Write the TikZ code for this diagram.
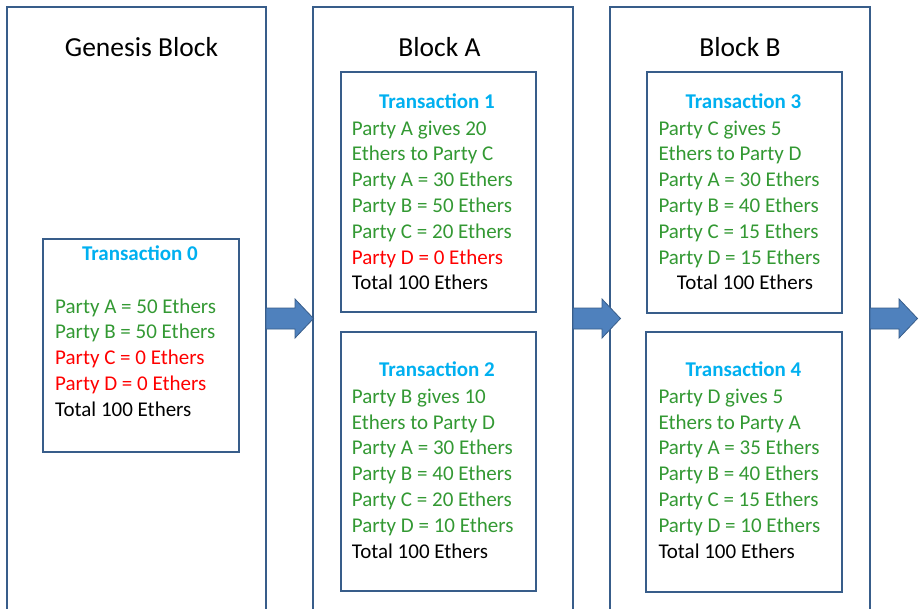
\documentclass[tikz,border=0pt]{standalone}
\usepackage{fontspec}
\setmainfont{Carlito}
\usepackage{xcolor}
\usepackage{tikz}

\definecolor{boxblue}{RGB}{56,93,138}
\definecolor{arrowblue}{RGB}{79,129,189}
\definecolor{headblue}{RGB}{0,176,240}
\definecolor{partygreen}{RGB}{51,153,51}
\definecolor{partyred}{RGB}{255,0,0}

\tikzset{
    blockbox/.style={draw=boxblue, line width=2.5pt, anchor=north west, inner sep=0pt, outer sep=0pt, minimum height=620pt},
    txbox/.style={draw=boxblue, line width=2.5pt, anchor=north west, inner sep=0pt, outer sep=0pt, minimum width=195pt},
    blockarrow/.style={draw=boxblue, line width=0.8pt, fill=arrowblue, line join=miter},
    titletext/.style={anchor=base, inner sep=0pt, font=\fontsize{27.5}{33}\selectfont},
    headtext/.style={anchor=base, inner sep=0pt, text=headblue, font=\bfseries\fontsize{21}{25.8}\selectfont},
    partylines/.style={anchor=base west, inner sep=0pt, text width=173pt, text=partygreen, font=\fontsize{21}{25.8}\selectfont,
        execute at begin node={\setlength{\spaceskip}{0pt}\setlength{\xspaceskip}{0pt}}}
}

\begin{document}
\begin{tikzpicture}[x=1pt,y=-1pt]

    \useasboundingbox (0,0) rectangle (920,608);
    \fill[white] (0,0) rectangle (920,608);
    \clip (0,0) rectangle (920,608);

    \node[blockbox, minimum width=259pt] (gen) at (7,7) {};
    \node[blockbox, minimum width=260pt] (blka) at (313,7) {};
    \node[blockbox, minimum width=260pt] (blkb) at (610,7) {};

    \node[titletext] (gentitle) at (141.5,56.7) {Genesis Block};
    \node[titletext] (blkatitle) at (439.5,56.7) {Block A};
    \node[titletext] (blkbtitle) at (740,56.7) {Block B};

    \node[txbox, minimum width=196pt, minimum height=213pt] (tx0) at (43,239) {};
    \node[txbox, minimum height=240pt] (tx1) at (341,72) {};
    \node[txbox, minimum height=259pt] (tx2) at (341,332) {};
    \node[txbox, minimum height=241pt] (tx3) at (647,72) {};
    \node[txbox, minimum width=196pt, minimum height=260pt] (tx4) at (646,332) {};

    \coordinate (arrowlevel) at (0,318.5);
    \coordinate (genout) at (gen.east |- arrowlevel);
    \coordinate (blkaout) at (blka.east |- arrowlevel);
    \coordinate (blkbout) at (blkb.east |- arrowlevel);

    \draw[blockarrow, shift={(genout)}] (0,-10.5) -- (29,-10.5) -- (29,-19.5) -- (47.5,0) -- (29,19.5) -- (29,10.5) -- (0,10.5) -- cycle;
    \draw[blockarrow, shift={(blkaout)}] (0,-10.5) -- (29,-10.5) -- (29,-19.5) -- (47.5,0) -- (29,19.5) -- (29,10.5) -- (0,10.5) -- cycle;
    \draw[blockarrow, shift={(blkbout)}] (0,-10.5) -- (29,-10.5) -- (29,-19.5) -- (47.5,0) -- (29,19.5) -- (29,10.5) -- (0,10.5) -- cycle;

    \node[headtext] (tx0head) at (140,260) {Transaction 0};
    \node[partylines] (tx0text) at (55,313) {Party A = 50 Ethers\\
        Party B = 50 Ethers\\
        \textcolor{partyred}{Party C = 0 Ethers}\\
        \textcolor{partyred}{Party D = 0 Ethers}\\
        \textcolor{black}{Total 100 Ethers}};

    \node[headtext] (tx1head) at (437,108) {Transaction 1};
    \node[partylines] (tx1text) at (351.7,135) {Party A gives 20\\
        Ethers to Party C\\
        Party A = 30 Ethers\\
        Party B = 50 Ethers\\
        Party C = 20 Ethers\\
        \textcolor{partyred}{Party D = 0 Ethers}\\
        \textcolor{black}{Total 100 Ethers}};

    \node[headtext] (tx2head) at (437,376.7) {Transaction 2};
    \node[partylines] (tx2text) at (351.7,403.3) {Party B gives 10\\
        Ethers to Party D\\
        Party A = 30 Ethers\\
        Party B = 40 Ethers\\
        Party C = 20 Ethers\\
        Party D = 10 Ethers\\
        \textcolor{black}{Total 100 Ethers}};

    \node[headtext] (tx3head) at (743.5,108) {Transaction 3};
    \node[partylines] (tx3text) at (658.3,135) {Party C gives 5\\
        Ethers to Party D\\
        Party A = 30 Ethers\\
        Party B = 40 Ethers\\
        Party C = 15 Ethers\\
        Party D = 15 Ethers\\
        \hbox to\hsize{\hfil\textcolor{black}{Total 100 Ethers}\hfil}};

    \node[headtext] (tx4head) at (743.5,376.7) {Transaction 4};
    \node[partylines] (tx4text) at (658.3,403.3) {Party D gives 5\\
        Ethers to Party A\\
        Party A = 35 Ethers\\
        Party B = 40 Ethers\\
        Party C = 15 Ethers\\
        Party D = 10 Ethers\\
        \textcolor{black}{Total 100 Ethers}};

\end{tikzpicture}
\end{document}
